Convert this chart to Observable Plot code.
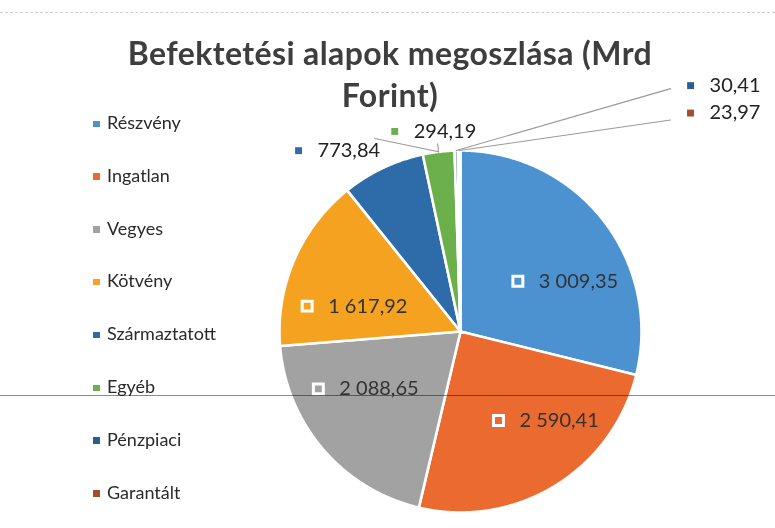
<!DOCTYPE html>
<html>
<head>
<meta charset="utf-8">
<script src="https://cdn.jsdelivr.net/npm/d3@7"></script>
<script src="https://cdn.jsdelivr.net/npm/@observablehq/plot@0.6"></script>
<style>
  html, body { margin: 0; padding: 0; background: #fff; }
  #wrap { position: relative; width: 775px; height: 528px; overflow: hidden; font-family: Lato, "Open Sans", sans-serif; }
  #chart { position: absolute; left: 0; top: 0; }
  #title { position: absolute; left: -10px; width: 800px; top: 32px; text-align: center; font-weight: 700; font-size: 32px; letter-spacing: 0.4px; line-height: 42px; color: #3e3e3e; }
  .leg { position: absolute; left: 93px; height: 20px; line-height: 20px; font-size: 18px; color: #2a2a2a; white-space: nowrap; }
  .leg i { display: inline-block; width: 6.5px; height: 6.5px; margin-right: 7.5px; vertical-align: 2px; }
  #topline { position: absolute; left: 0; right: 0; top: 12px; border-top: 1px dashed #cfcfcf; }
  #scanline { position: absolute; left: 0; right: 0; top: 395px; height: 1px; background: #8a8a8a; mix-blend-mode: multiply; }
</style>
</head>
<body>
<div id="wrap">
  <div id="chart"></div>
  <div id="topline"></div>
  <div id="title"></div>
  <div id="legend"></div>
  <div id="scanline"></div>
</div>
<script>
// ---- data ----
const categories = ["Részvény", "Ingatlan", "Vegyes", "Kötvény", "Származtatott", "Egyéb", "Pénzpiaci", "Garantált"];
const values = [3009.35, 2590.41, 2088.65, 1617.92, 773.84, 294.19, 30.41, 23.97];
const valueLabels = ["3 009,35", "2 590,41", "2 088,65", "1 617,92", "773,84", "294,19", "30,41", "23,97"];
const colors = ["#4c92d1", "#ea6a2f", "#a2a2a2", "#f4a21f", "#2e6ba9", "#6cb04c", "#275f93", "#a0502a"];
const titleLines = ["Befektetési alapok megoszlása (Mrd", "Forint)"];

// ---- layout ----
const CX = 460, CY = 331, R = 181;
const W = 775, H = 528;
// pixel nudges of each data label from its default polar spot
const labelNudgePx = [[-31, 19], [-20.5, -6.7], [-57, -15.7], [-50.3, 19.1], [-72.7, 7.2], [-40.6, 6.6], [235, -37.8], [231.5, -10.3]];
const legendTop = 122, legendStep = 52.8;

// ---- geometry from data ----
const total = d3.sum(values);
let acc = 0;
const slices = values.map((v, i) => {
  const a0 = acc / total * 2 * Math.PI;
  acc += v;
  const a1 = acc / total * 2 * Math.PI;
  return {cat: categories[i], value: v, label: valueLabels[i], a0, a1, mid: (a0 + a1) / 2, inside: v / total > 0.1, i};
});
const polar = (a, r) => ({x: r * Math.sin(a), y: r * Math.cos(a)});

const slicePts = [];
for (const s of slices) {
  const n = Math.max(2, Math.ceil((s.a1 - s.a0) / (Math.PI / 720)));
  slicePts.push({cat: s.cat, x: 0, y: 0});
  for (let k = 0; k <= n; k++) {
    const p = polar(s.a0 + (s.a1 - s.a0) * k / n, 1);
    slicePts.push({cat: s.cat, ...p});
  }
  slicePts.push({cat: s.cat, x: 0, y: 0});
}

const labelPts = slices.map(s => {
  const base = polar(s.mid, s.inside ? 0.62 : 1.15);
  const [nx, ny] = labelNudgePx[s.i];
  return {...s, x: base.x + nx / R, y: base.y - ny / R};
});

// leader lines for the smallest slices
const leaders = [];
labelPts.forEach(l => {
  if (l.inside || l.i < 5) return;
  const start = polar(l.mid, 1);
  const endShift = l.i === 6 ? 3 : 7;
  leaders.push({id: l.cat, x: start.x, y: start.y});
  leaders.push({id: l.cat, x: l.x - 20 / R, y: l.y - endShift / R});
});
const egy = labelPts[5];
leaders.push({id: "tick", ...polar(egy.mid, 1.0)});
leaders.push({id: "tick", ...polar(egy.mid, 1.045)});

const insideL = labelPts.filter(d => d.inside);
const outsideL = labelPts.filter(d => !d.inside);

const chart = Plot.plot({
  width: W, height: H,
  margin: 0,
  x: {domain: [-1, 1], range: [CX - R, CX + R], axis: null},
  y: {domain: [-1, 1], range: [CY + R, CY - R], axis: null},
  color: {domain: categories, range: colors},
  style: {fontFamily: "Lato, 'Open Sans', sans-serif", background: "transparent"},
  marks: [
    Plot.line(slicePts, {x: "x", y: "y", z: "cat", fill: "cat", stroke: "white", strokeWidth: 2.6, strokeLinejoin: "round", curve: "linear"}),
    Plot.line(leaders, {x: "x", y: "y", z: "id", stroke: "#9a9a9a", strokeWidth: 1.1}),
    Plot.dot(insideL, {x: "x", y: "y", symbol: "square", r: 5.6, fill: "cat", stroke: "white", strokeWidth: 3}),
    Plot.dot(outsideL, {x: "x", y: "y", symbol: "square", r: 3.9, fill: "cat", stroke: "none"}),
    Plot.text(insideL, {x: "x", y: "y", text: "label", dx: 21, textAnchor: "start", fontSize: 20, fill: "#333"}),
    Plot.text(outsideL, {x: "x", y: "y", text: "label", dx: 19, textAnchor: "start", fontSize: 20, fill: "#222"})
  ]
});
document.getElementById("chart").appendChild(chart);

// title
document.getElementById("title").innerHTML = titleLines.map(t => `<div>${t}</div>`).join("");

// legend
const legend = document.getElementById("legend");
categories.forEach((c, i) => {
  const d = document.createElement("div");
  d.className = "leg";
  d.style.top = (legendTop + i * legendStep - 10) + "px";
  d.innerHTML = `<i style="background:${colors[i]}"></i>${c}`;
  legend.appendChild(d);
});
</script>
</body>
</html>
